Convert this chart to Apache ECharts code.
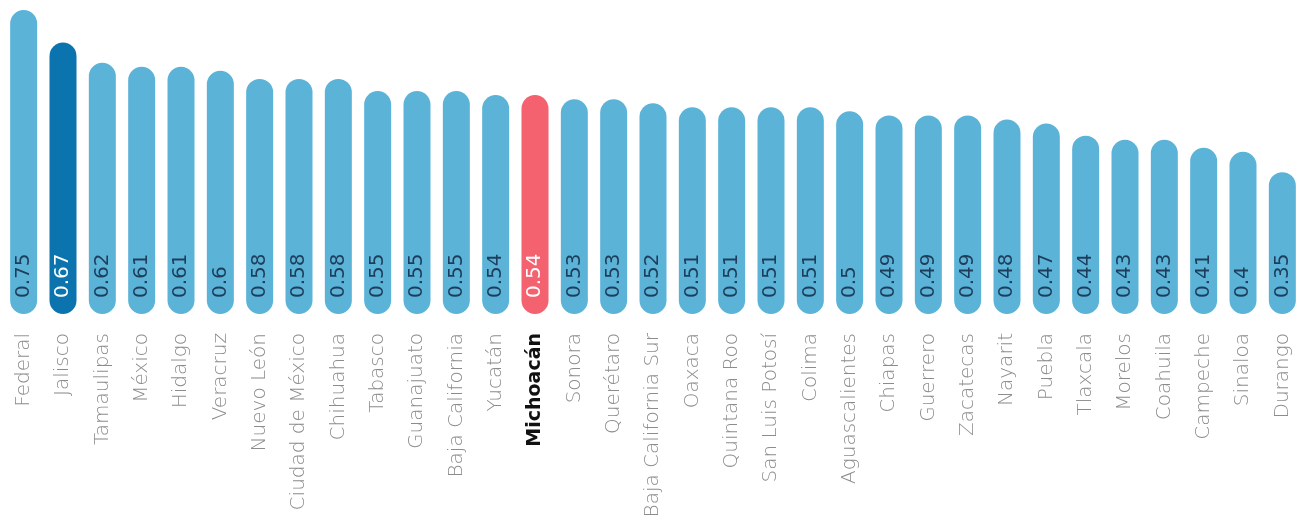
<!DOCTYPE html>
<html>
<head>
<meta charset="utf-8">
<title>Índice por entidad</title>
<script src="https://cdn.jsdelivr.net/npm/echarts@6/dist/echarts.min.js"></script>
<style>
  html, body { margin: 0; padding: 0; background: #ffffff; }
  #chart { width: 1296px; height: 519px; }
</style>
</head>
<body>
<div id="chart"></div>
<script>
// Entidades ordenadas de mayor a menor índice
const categories = [
  'Federal', 'Jalisco', 'Tamaulipas', 'México', 'Hidalgo', 'Veracruz',
  'Nuevo León', 'Ciudad de México', 'Chihuahua', 'Tabasco', 'Guanajuato',
  'Baja California', 'Yucatán', 'Michoacán', 'Sonora', 'Querétaro',
  'Baja California Sur', 'Oaxaca', 'Quintana Roo', 'San Luis Potosí',
  'Colima', 'Aguascalientes', 'Chiapas', 'Guerrero', 'Zacatecas',
  'Nayarit', 'Puebla', 'Tlaxcala', 'Morelos', 'Coahuila', 'Campeche',
  'Sinaloa', 'Durango'
];

const values = [
  0.75, 0.67, 0.62, 0.61, 0.61, 0.6,
  0.58, 0.58, 0.58, 0.55, 0.55,
  0.55, 0.54, 0.54, 0.53, 0.53,
  0.52, 0.51, 0.51, 0.51,
  0.51, 0.5, 0.49, 0.49, 0.49,
  0.48, 0.47, 0.44, 0.43, 0.43, 0.41,
  0.4, 0.35
];

// Entidades con color propio
const highlightNames = ['Jalisco', 'Michoacán'];
const highlightColors = ['#0b74ae', '#f4616f'];

const baseColor = '#5bb3d8';
const labelDark = '#1d3d5a';
const boldName = 'Michoacán';

const seriesData = categories.map((name, i) => {
  const h = highlightNames.indexOf(name);
  const item = { value: values[i] };
  if (h >= 0) {
    item.itemStyle = { color: highlightColors[h] };
    item.label = { color: '#ffffff' };
  }
  return item;
});

const chart = echarts.init(document.getElementById('chart'), null, { renderer: 'canvas' });

chart.setOption({
  animation: false,
  backgroundColor: '#ffffff',
  grid: {
    left: 4,
    width: 1298,
    top: 10,
    bottom: 205,
    containLabel: false,
    outerBoundsMode: 'none'
  },
  xAxis: {
    type: 'category',
    data: categories,
    axisLine: { show: false },
    axisTick: { show: false },
    axisLabel: {
      interval: 0,
      rotate: 90,
      margin: 19,
      color: '#8c8c8c',
      fontFamily: 'DejaVu Sans',
      fontSize: 20,
      fontWeight: 200,
      formatter: (v) => (v === boldName ? '{b|' + v + '}' : v),
      rich: {
        b: {
          fontFamily: 'DejaVu Sans',
          fontSize: 19,
          fontWeight: 'bold',
          color: '#111111'
        }
      }
    }
  },
  yAxis: {
    type: 'value',
    min: 0,
    max: 0.75,
    show: false,
    splitLine: { show: false }
  },
  series: [{
    type: 'bar',
    data: seriesData,
    barWidth: 27,
    itemStyle: {
      color: baseColor,
      borderRadius: 14
    },
    label: {
      show: true,
      position: 'insideBottom',
      distance: 16,
      rotate: 90,
      align: 'left',
      verticalAlign: 'middle',
      formatter: '{c}',
      color: labelDark,
      fontFamily: 'DejaVu Sans',
      fontSize: 20,
      fontWeight: 'normal'
    }
  }]
});
</script>
</body>
</html>
